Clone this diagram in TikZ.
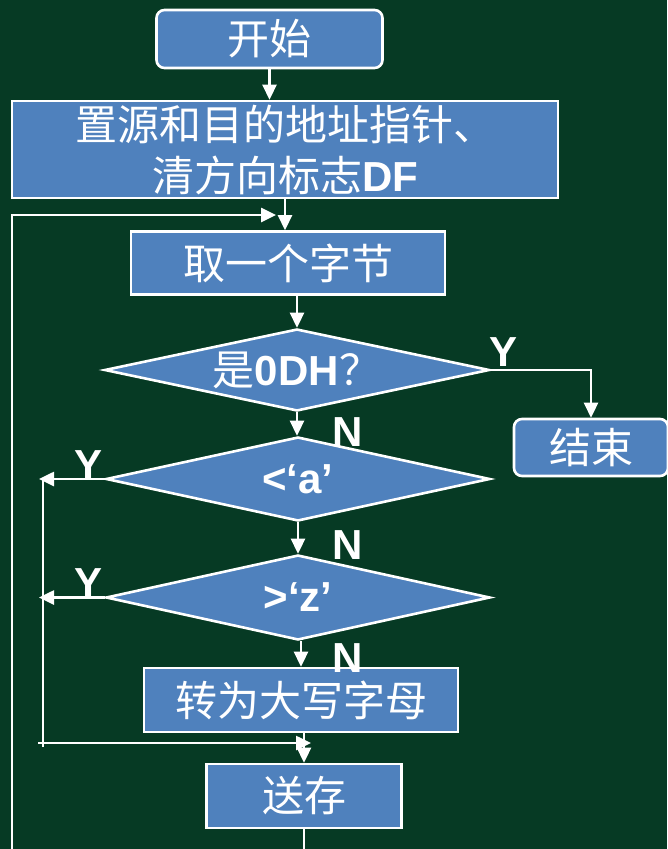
\documentclass[tikz,border=0pt]{standalone}
\usepackage{fontspec}
\setmainfont{Liberation Sans}
\newfontfamily\cjk{Noto Sans CJK SC}
\usetikzlibrary{shapes.geometric,arrows.meta,calc}
\definecolor{bgcol}{HTML}{063A24}
\definecolor{boxblue}{HTML}{4F81BD}
\newcommand\latbold[1]{{\normalfont\bfseries #1}}
\begin{document}
\begin{tikzpicture}[x=1pt,y=-1pt,
  box/.style={draw=white,line width=2.6pt,fill=boxblue,inner sep=0pt,text=white,
    font=\cjk\fontsize{42}{51}\selectfont,align=center},
  dia/.style={box,shape=diamond,aspect=4.7},
  lbl/.style={text=white,font=\bfseries\fontsize{42}{42}\selectfont,inner sep=0pt},
  conn/.style={white,line width=2.6pt},
  arr/.style={conn,-{Triangle[length=15pt,width=14pt]}}]
\fill[bgcol] (0,0) rectangle (667,849);
\useasboundingbox (0,0) rectangle (667,849);
% nodes
\node[box,rounded corners=8pt,minimum width=226pt,minimum height=58pt] (start) at (269.5,39) {开始};
\node[box,minimum width=546pt,minimum height=97pt] (init) at (285,149.5)
  {置源和目的地址指针、\\清方向标志\latbold{DF}};
\node[box,minimum width=314pt,minimum height=63pt] (getb) at (288,263) {取一个字节};
\node[dia,minimum width=385pt,minimum height=82pt] (d1) at (297,370) {是\latbold{0DH}？};
\node[box,rounded corners=8pt,minimum width=154pt,minimum height=57pt] (fin) at (591,447.5) {结束};
\node[dia,minimum width=384pt,minimum height=84pt] (d2) at (298,479) {\latbold{<‘a’}};
\node[dia,minimum width=384pt,minimum height=85pt] (d3) at (298,597.5) {\latbold{>‘z’}};
\node[box,minimum width=314pt,minimum height=64pt] (upper) at (301,700) {转为大写字母};
\node[box,minimum width=195pt,minimum height=64pt] (store) at (304,796) {送存};
% labels
\node[lbl] (y1) at (504,352) {Y};
\node[lbl] (n1) at (348,432) {N};
\node[lbl] (n2) at (348,545) {N};
\node[lbl] (n3) at (348,658) {N};
\node[lbl] (y2) at (89,465) {Y};
\node[lbl] (y3) at (89,583) {Y};
% helper coordinates
\coordinate (looptip) at (276,215);
\coordinate (loopbot) at (12,870);
\coordinate (ya) at (39,479);
\coordinate (yb) at (39,597.5);
\coordinate (vtop) at (43,479);
\coordinate (vbot) at (43,747);
\coordinate (mergeL) at (38,743);
\coordinate (mergeR) at (311,743);
% connectors
\draw[arr] (start.south) -- (start.south |- init.north);
\draw[arr] (init.south) -- (init.south |- getb.north);
\draw[arr] (store.south) -- (store.south |- loopbot) -- (loopbot) |- (looptip);
\draw[arr] (d1.north |- getb.south) -- (d1.north);
\draw[arr] (d1.east) -| (fin.north);
\draw[arr] (d1.south) -- (d1.south |- d2.north);
\draw[arr] (d2.south) -- (d2.south |- d3.north);
\draw[arr] (upper.north |- d3.south) -- (upper.north);
\draw[arr] (d2.west) -- (ya);
\draw[arr] (d3.west) -- (yb);
\draw[conn] (vtop) -- (vbot);
\draw[arr] (mergeL) -- (mergeR);
\draw[arr] (store.north |- upper.south) -- (store.north);
\end{tikzpicture}
\end{document}
